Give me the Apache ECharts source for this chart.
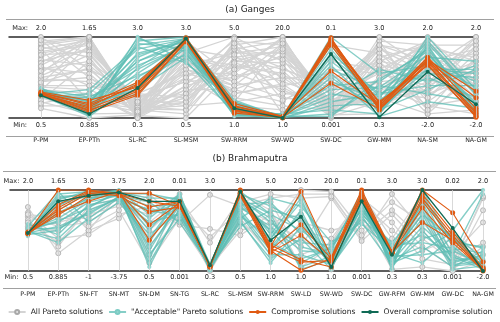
<!DOCTYPE html>
<html>
<head>
<meta charset="utf-8">
<script src="https://cdn.jsdelivr.net/npm/echarts@6/dist/echarts.min.js"></script>
<style>
  html, body { margin: 0; padding: 0; background: #fff; }
  #chart { width: 500px; height: 322px; }
</style>
</head>
<body>
<div id="chart"></div>
<script>
// axis names and the max / min printed above and below each axis
const axesA = ['P-PM', 'EP-PTh', 'SL-RC', 'SL-MSM', 'SW-RRM', 'SW-WD', 'SW-DC', 'GW-MM', 'NA-SM', 'NA-GM']
const maxA = ['2.0', '1.65', '3.0', '3.0', '5.0', '20.0', '0.1', '3.0', '2.0', '2.0']
const minA = ['0.5', '0.885', '0.3', '0.5', '1.0', '1.0', '0.001', '0.3', '-2.0', '-2.0']

const axesB = ['P-PM', 'EP-PTh', 'SN-FT', 'SN-MT', 'SN-DM', 'SN-TG', 'SL-RC', 'SL-MSM', 'SW-RRM', 'SW-LD', 'SW-WD', 'SW-DC', 'GW-RFM', 'GW-MM', 'GW-DC', 'NA-GM']
const maxB = ['2.0', '1.65', '3.0', '3.75', '2.0', '0.01', '3.0', '3.0', '5.0', '20.0', '20.0', '0.1', '3.0', '3.0', '0.02', '2.0']
const minB = ['0.5', '0.885', '-1', '-3.75', '0.5', '0.001', '0.3', '0.5', '1.0', '1.0', '1.0', '0.001', '0.3', '0.3', '0.001', '-2.0']

// solutions, as position between min (0) and max (1) on each axis
// (a) Ganges
const allA = [
  [0.95, 1.0, 0.05, 0.2, 0.9, 1.0, 0.05, 0.8, 0.3, 0.9],
  [0.9, 0.98, 0.1, 0.35, 0.85, 0.95, 0.1, 0.6, 0.9, 0.7],
  [0.85, 0.96, 0.02, 0.5, 0.95, 0.9, 0.02, 0.95, 0.1, 0.5],
  [0.8, 0.9, 0.15, 0.1, 0.7, 0.85, 0.15, 0.4, 0.6, 1.0],
  [0.75, 1.0, 0.0, 0.65, 0.8, 0.8, 0.0, 0.7, 0.95, 0.3],
  [0.7, 0.85, 0.2, 0.3, 0.6, 0.75, 0.2, 0.2, 0.45, 0.85],
  [0.65, 0.95, 0.05, 0.8, 1.0, 0.7, 0.3, 0.9, 0.2, 0.6],
  [0.6, 0.7, 0.25, 0.45, 0.5, 0.65, 0.08, 0.5, 0.75, 0.2],
  [0.55, 1.0, 0.1, 0.05, 0.75, 0.6, 0.4, 0.3, 0.35, 0.95],
  [0.5, 0.6, 0.3, 0.55, 0.4, 0.5, 0.12, 0.85, 0.55, 0.4],
  [0.45, 0.5, 0.08, 0.25, 0.65, 0.45, 0.25, 0.1, 0.85, 0.75],
  [0.4, 0.4, 0.18, 0.7, 0.3, 0.4, 0.5, 0.65, 0.05, 0.1],
  [0.35, 0.3, 0.02, 0.4, 0.55, 0.35, 0.06, 0.35, 0.65, 0.55],
  [0.3, 0.2, 0.12, 0.15, 0.2, 0.3, 0.35, 0.75, 0.25, 0.8],
  [0.25, 0.1, 0.22, 0.6, 0.45, 0.25, 0.18, 0.15, 0.8, 0.25],
  [0.2, 0.05, 0.06, 0.35, 0.35, 0.2, 0.6, 0.55, 0.4, 0.65],
  [0.15, 0.15, 0.28, 0.9, 0.25, 0.15, 0.1, 0.25, 1.0, 0.45],
  [0.12, 0.0, 0.04, 0.5, 0.15, 0.1, 0.22, 0.45, 0.5, 0.15],
  [0.98, 0.8, 0.14, 0.75, 0.65, 0.55, 0.04, 0.05, 0.7, 0.35],
  [0.88, 0.75, 0.0, 0.3, 0.9, 0.05, 0.7, 0.6, 0.15, 0.05],
  [0.72, 0.65, 0.16, 0.85, 0.1, 0.02, 0.9, 0.8, 0.45, 0.7],
  [0.62, 0.55, 0.03, 0.0, 0.6, 0.98, 0.14, 0.95, 0.9, 0.9],
  [0.48, 0.45, 0.2, 0.2, 0.8, 0.88, 0.03, 0.35, 0.3, 0.5],
  [0.38, 0.35, 0.09, 0.95, 0.5, 0.78, 0.28, 0.7, 0.6, 0.2],
  [0.28, 0.25, 0.26, 0.45, 0.7, 0.68, 0.45, 0.25, 0.05, 0.6],
  [0.82, 0.92, 0.07, 0.6, 0.35, 0.58, 0.09, 0.9, 0.8, 0.4],
  [0.58, 0.88, 0.11, 0.1, 0.95, 0.48, 0.55, 0.15, 0.4, 1.0],
  [0.42, 0.98, 0.01, 0.7, 0.45, 0.92, 0.02, 0.5, 0.95, 0.3],
  [1.0, 0.6, 0.12, 0.55, 0.55, 1.0, 0.08, 0.65, 0.55, 0.55],
  [0.92, 1.0, 0.04, 0.85, 0.75, 0.82, 0.16, 0.45, 0.85, 0.15],
  [0.78, 0.82, 0.24, 0.15, 0.85, 0.62, 0.32, 0.85, 0.65, 0.8],
  [0.68, 1.0, 0.06, 0.4, 0.98, 0.38, 0.06, 0.3, 0.25, 0.7],
  [0.52, 0.78, 0.14, 0.75, 0.6, 0.96, 0.2, 0.6, 0.5, 0.95],
  [0.44, 0.62, 0.02, 0.3, 0.88, 0.72, 0.04, 0.75, 0.9, 0.45],
  [0.34, 0.9, 0.18, 0.65, 0.4, 0.85, 0.12, 0.4, 0.15, 0.25],
  [0.22, 0.7, 0.1, 0.2, 0.68, 0.52, 0.38, 0.9, 0.7, 0.85],
  [0.18, 0.3, 0.0, 0.8, 0.3, 0.42, 0.02, 0.2, 0.35, 0.6],
  [0.96, 0.5, 0.2, 0.5, 0.78, 0.3, 0.26, 0.55, 0.95, 0.35],
  [0.86, 0.2, 0.08, 0.9, 0.2, 0.92, 0.1, 1.0, 0.6, 0.1],
  [0.64, 0.4, 0.3, 0.25, 0.92, 0.22, 0.48, 0.7, 0.1, 0.75]
]
const okA = [
  [0.30, 0.05, 0.95, 1.0, 0.05, 0.01, 0.95, 0.05, 0.9, 0.05],
  [0.32, 0.1, 0.9, 0.98, 0.1, 0.02, 0.85, 0.15, 0.8, 0.15],
  [0.28, 0.15, 0.8, 0.95, 0.15, 0.0, 0.7, 0.25, 0.95, 0.3],
  [0.34, 0.2, 0.7, 0.92, 0.08, 0.03, 0.6, 0.35, 0.7, 0.45],
  [0.27, 0.25, 0.6, 0.9, 0.2, 0.01, 0.5, 0.1, 0.6, 0.6],
  [0.36, 0.08, 0.5, 0.85, 0.12, 0.04, 0.4, 0.45, 0.85, 0.1],
  [0.31, 0.12, 0.4, 0.8, 0.03, 0.02, 0.3, 0.2, 0.5, 0.25],
  [0.29, 0.18, 0.35, 0.75, 0.18, 0.0, 0.2, 0.3, 0.4, 0.4],
  [0.33, 0.03, 1.0, 0.7, 0.06, 0.05, 0.1, 0.05, 0.75, 0.7],
  [0.26, 0.3, 0.85, 0.97, 0.22, 0.01, 0.05, 0.4, 0.3, 0.2],
  [0.35, 0.06, 0.75, 0.99, 0.1, 0.02, 1.0, 0.55, 0.65, 0.02],
  [0.30, 0.22, 0.65, 0.88, 0.14, 0.03, 0.9, 0.12, 1.0, 0.35],
  [0.37, 0.14, 0.55, 0.93, 0.04, 0.0, 0.8, 0.3, 0.55, 0.5],
  [0.28, 0.02, 0.45, 0.96, 0.16, 0.02, 0.65, 0.08, 0.88, 0.08],
  [0.32, 0.1, 0.3, 0.9, 0.09, 0.01, 0.45, 0.22, 0.6, 0.55],
  [0.34, 0.16, 0.98, 0.82, 0.12, 0.04, 0.35, 0.38, 0.78, 0.18],
  [0.29, 0.35, 0.88, 0.68, 0.2, 0.02, 0.25, 0.6, 0.45, 0.65],
  [0.31, 0.04, 0.62, 1.0, 0.07, 0.0, 0.15, 0.18, 0.92, 0.28],
  [0.33, 0.2, 0.78, 0.94, 0.02, 0.03, 0.55, 0.02, 0.2, 0.12],
  [0.27, 0.08, 0.92, 0.86, 0.14, 0.01, 0.75, 0.28, 0.7, 0.38],
  [0.35, 0.26, 0.52, 0.78, 0.18, 0.02, 0.02, 0.48, 0.82, 0.04],
  [0.30, 0.12, 0.7, 0.97, 0.05, 0.0, 0.98, 0.1, 0.35, 0.6]
]
const compA = [
  [0.31, 0.18, 0.44, 0.97, 0.15, 0.01, 0.99, 0.12, 0.72, 0.33],
  [0.29, 0.14, 0.42, 0.96, 0.10, 0.01, 0.97, 0.18, 0.70, 0.25],
  [0.32, 0.22, 0.38, 0.99, 0.18, 0.02, 0.96, 0.15, 0.75, 0.12],
  [0.30, 0.10, 0.30, 0.95, 0.06, 0.01, 0.94, 0.10, 0.68, 0.06],
  [0.28, 0.07, 0.28, 0.94, 0.08, 0.0, 0.93, 0.20, 0.65, 0.01],
  [0.30, 0.12, 0.35, 0.98, 0.12, 0.01, 0.90, 0.13, 0.73, 0.03],
  [0.31, 0.16, 0.40, 0.96, 0.14, 0.02, 0.58, 0.16, 0.70, 0.08],
  [0.29, 0.09, 0.33, 0.97, 0.09, 0.01, 0.43, 0.11, 0.66, 0.02]
]
const bestA = [0.28, 0.05, 0.37, 0.98, 0.12, 0.0, 0.79, 0.01, 0.57, 0.17]

// (b) Brahmaputra
const allB = [
  [0.79, 0.22, 0.5, 0.65, 0.95, 0.6, 0.94, 0.8, 0.9, 0.95, 0.95, 0.4, 0.95, 0.5, 0.1, 0.9],
  [0.72, 0.4, 0.45, 0.7, 0.8, 0.57, 0.52, 0.44, 0.7, 0.3, 0.9, 0.37, 0.7, 0.3, 0.05, 0.75],
  [0.67, 0.55, 0.6, 0.85, 0.6, 0.9, 0.35, 0.9, 0.5, 1.0, 0.98, 0.5, 0.85, 0.6, 0.2, 0.6],
  [0.63, 0.3, 0.8, 0.9, 0.2, 0.7, 0.0, 0.6, 0.3, 0.5, 0.4, 0.9, 0.6, 0.15, 0.08, 0.92],
  [0.59, 0.9, 0.5, 0.95, 0.4, 0.8, 0.42, 0.75, 0.85, 0.2, 0.35, 0.95, 0.4, 0.95, 0.3, 0.02],
  [0.55, 0.6, 0.7, 0.8, 0.7, 0.95, 0.05, 0.5, 0.6, 0.7, 0.02, 0.8, 0.1, 0.8, 0.02, 0.3],
  [0.47, 0.75, 0.55, 0.75, 0.1, 0.65, 0.07, 0.85, 0.95, 0.9, 0.92, 0.44, 0.75, 0.4, 0.12, 0.35],
  [0.52, 0.5, 0.9, 0.98, 0.9, 0.6, 0.03, 0.95, 0.75, 0.05, 0.3, 0.7, 0.02, 0.05, 0.0, 0.12],
  [0.7, 0.65, 0.65, 0.92, 0.5, 0.85, 0.02, 0.65, 0.2, 0.6, 0.5, 0.6, 0.3, 0.7, 0.25, 0.05],
  [0.6, 0.35, 0.75, 0.88, 0.3, 0.75, 0.06, 0.8, 0.6, 0.4, 0.15, 0.85, 0.5, 0.25, 0.4, 0.2]
]
const okB = [
  [0.48, 0.95, 0.98, 0.97, 0.9, 0.9, 0.05, 0.95, 0.8, 0.6, 0.1, 0.95, 0.1, 0.9, 0.2, 0.05],
  [0.47, 0.9, 0.95, 0.99, 0.7, 0.85, 0.02, 0.9, 0.6, 0.3, 0.2, 0.85, 0.2, 0.7, 0.4, 0.1],
  [0.50, 0.8, 1.0, 0.95, 0.5, 0.95, 0.08, 0.85, 0.4, 0.9, 0.05, 0.9, 0.05, 0.5, 0.1, 0.2],
  [0.46, 0.7, 0.9, 0.98, 0.3, 0.8, 0.04, 0.8, 0.5, 0.1, 0.3, 0.75, 0.3, 0.95, 0.3, 0.02],
  [0.52, 0.6, 0.85, 0.93, 0.1, 0.75, 0.06, 0.75, 0.3, 0.7, 0.15, 0.8, 0.15, 0.3, 0.05, 0.25],
  [0.45, 0.5, 0.8, 0.96, 0.95, 0.88, 0.03, 0.98, 0.7, 0.5, 0.25, 0.98, 0.25, 0.6, 0.45, 0.05],
  [0.49, 0.4, 0.75, 0.9, 0.6, 0.7, 0.07, 0.7, 0.2, 0.2, 0.08, 0.7, 0.35, 0.8, 0.15, 0.15],
  [0.55, 0.98, 0.6, 0.85, 0.4, 0.92, 0.01, 0.65, 0.9, 0.8, 0.35, 0.6, 0.08, 0.4, 0.5, 1.0],
  [0.44, 0.85, 0.92, 0.99, 0.2, 0.65, 0.05, 0.6, 0.15, 0.4, 0.02, 0.88, 0.18, 0.2, 0.25, 0.08],
  [0.48, 0.75, 0.97, 0.94, 0.8, 0.82, 0.09, 0.88, 0.65, 0.05, 0.18, 0.92, 0.02, 1.0, 0.35, 0.3],
  [0.51, 0.65, 0.88, 0.97, 0.05, 0.78, 0.04, 0.92, 0.45, 0.95, 0.12, 0.65, 0.28, 0.75, 0.08, 0.12],
  [0.47, 0.55, 0.7, 0.92, 0.65, 0.95, 0.02, 0.78, 0.55, 0.25, 0.22, 0.82, 0.12, 0.55, 0.2, 0.95],
  [0.58, 0.45, 0.82, 0.88, 0.45, 0.72, 0.06, 0.55, 0.75, 0.65, 0.05, 0.72, 0.22, 0.1, 0.42, 0.04],
  [0.46, 0.92, 0.94, 1.0, 0.25, 0.86, 0.03, 0.95, 0.35, 0.15, 0.28, 0.95, 0.06, 0.85, 0.12, 0.18],
  [0.49, 0.35, 0.65, 0.9, 0.75, 0.68, 0.08, 0.82, 0.85, 0.45, 0.1, 0.78, 0.32, 0.35, 0.28, 0.22],
  [0.43, 0.88, 0.99, 0.96, 0.15, 0.9, 0.05, 0.72, 0.25, 0.75, 0.04, 0.68, 0.14, 0.65, 0.02, 0.06],
  [0.50, 0.62, 0.78, 0.99, 0.55, 0.8, 0.01, 0.86, 0.5, 0.35, 0.32, 0.9, 0.04, 0.9, 0.38, 0.28],
  [0.48, 0.72, 0.9, 0.93, 0.85, 0.6, 0.07, 0.62, 0.1, 0.55, 0.06, 0.58, 0.26, 0.45, 0.18, 0.02],
  [0.45, 0.82, 0.96, 0.95, 0.35, 0.93, 0.04, 0.9, 0.7, 0.02, 0.14, 0.86, 0.1, 0.25, 0.48, 0.14],
  [0.53, 0.52, 0.72, 0.91, 0.75, 0.77, 0.02, 0.68, 0.4, 0.85, 0.2, 0.76, 0.2, 0.7, 0.06, 0.1]
]
const compB = [
  [0.47, 1.0, 1.0, 0.96, 0.96, 0.81, 0.06, 1.0, 0.3, 0.98, 0.17, 1.0, 0.24, 1.0, 0.72, 0.11],
  [0.46, 0.78, 0.98, 0.95, 0.79, 0.86, 0.05, 0.97, 0.26, 0.57, 0.15, 0.96, 0.23, 0.95, 0.48, 0.04],
  [0.48, 0.75, 0.96, 0.93, 0.73, 0.79, 0.07, 0.93, 0.23, 0.44, 0.12, 0.92, 0.22, 0.9, 0.44, 0.02],
  [0.47, 0.69, 0.93, 0.97, 0.57, 0.84, 0.05, 0.99, 0.32, 0.14, 0.05, 0.88, 0.24, 0.86, 0.4, 0.0],
  [0.46, 0.72, 0.86, 0.98, 0.38, 0.82, 0.06, 0.95, 0.28, 0.11, 0.13, 0.94, 0.22, 0.78, 0.35, 0.01],
  [0.47, 0.82, 0.99, 0.95, 0.86, 0.8, 0.07, 0.96, 0.25, 0.01, 0.15, 0.9, 0.23, 0.6, 0.38, 0.03]
]
const bestB = [0.47, 0.86, 0.93, 0.97, 0.86, 0.86, 0.07, 0.98, 0.38, 0.67, 0.05, 0.86, 0.2, 1.0, 0.53, 0.0]

const names = ['All Pareto solutions', '"Acceptable" Pareto solutions', 'Compromise solutions', 'Overall compromise solution']
const font = 'DejaVu Sans'

const chart = echarts.init(document.getElementById('chart'), null, {renderer: 'canvas'})

// three x axes per panel: max labels on top, min labels below, axis names under the separator
function panelAxes(gi, n, xmin, tagX, maxs, mins, labels, m) {
  const ticks = [...Array(n).keys()]
  const base = {
    type: 'value', gridIndex: gi, min: xmin, max: n - 1,
    splitLine: {show: false}, axisTick: {show: false}
  }
  const frame = {onZero: false, lineStyle: {color: '#2a2a2a', width: 1.5}}
  return [
    {...base, position: 'top', axisLine: frame,
      axisLabel: {customValues: [tagX, ...ticks], formatter: v => v < 0 ? 'Max:' : maxs[Math.round(v)],
        margin: m[0], fontSize: 6.6, color: '#222', fontFamily: font}},
    {...base, position: 'bottom', axisLine: frame,
      axisLabel: {customValues: [tagX, ...ticks], formatter: v => v < 0 ? 'Min:' : mins[Math.round(v)],
        margin: m[1], fontSize: 6.6, color: '#222', fontFamily: font}},
    {...base, position: 'bottom', offset: m[3], axisLine: {show: false},
      axisLabel: {customValues: ticks, formatter: v => labels[Math.round(v)],
        margin: m[2], fontSize: 6.3, color: '#222', fontFamily: font}}
  ]
}

const styles = {
  all: {
    lineStyle: {color: '#d4d4d4', width: 1.3}, symbol: 'circle', symbolSize: 5,
    itemStyle: {color: '#e6e6e6', borderColor: '#a8a8a8', borderWidth: 0.8}
  },
  ok: {
    lineStyle: {color: '#5ebdb4', width: 1.4, opacity: 0.75}, symbol: 'circle', symbolSize: 3.5,
    itemStyle: {color: '#94d5cf', borderColor: '#7ccbc4', borderWidth: 0.5}
  },
  comp: {
    lineStyle: {color: '#e05a12', width: 1.1}, symbol: 'circle', symbolSize: 5,
    itemStyle: {color: '#e05a12'}
  },
  best: {
    lineStyle: {color: '#0f6a55', width: 1.3}, symbol: 'circle', symbolSize: 4,
    itemStyle: {color: '#0f6a55'}
  }
}

function group(rows, name, style, gi, z) {
  return rows.map(r => ({
    type: 'line', name, xAxisIndex: gi * 3, yAxisIndex: gi, z,
    data: r.map((v, i) => [i, v]),
    silent: true, emphasis: {disabled: true}, animation: false,
    ...style
  }))
}

function axisLines(axes) {
  return {
    silent: true, symbol: 'none', label: {show: false},
    lineStyle: {color: '#cfcfcf', width: 0.8, type: 'solid'},
    data: axes.map((_, i) => ({xAxis: i}))
  }
}

const series = []
;[[allA, okA, compA, [bestA], axesA], [allB, okB, compB, [bestB], axesB]].forEach((p, gi) => {
  const g = group(p[0], names[0], styles.all, gi, 2)
  g[0].markLine = axisLines(p[4])
  series.push(...g)
  series.push(...group(p[1], names[1], styles.ok, gi, 3))
  series.push(...group(p[2], names[2], styles.comp, gi, 4))
  series.push(...group(p[3], names[3], styles.best, gi, 5))
})

const sepStyle = {stroke: '#a0a0a0', lineWidth: 1}

chart.setOption({
  backgroundColor: '#fff',
  animation: false,
  title: [
    {text: '(a) Ganges', left: 'center', top: 0, textStyle: {fontSize: 9, fontWeight: 'normal', color: '#222', fontFamily: font}},
    {text: '(b) Brahmaputra', left: 'center', top: 149, textStyle: {fontSize: 9, fontWeight: 'normal', color: '#222', fontFamily: font}}
  ],
  legend: {
    data: names, left: 'center', top: 308, width: 500, padding: 0,
    itemWidth: 17, itemHeight: 5, itemGap: 5,
    textStyle: {fontSize: 7.6, color: '#222', fontFamily: font}
  },
  grid: [
    {left: 9, right: 24, top: 37, height: 81},
    {left: 10, right: 17, top: 190, height: 81}
  ],
  xAxis: [
    ...panelAxes(0, axesA.length, -0.66, -0.43, maxA, minA, axesA, [5, 4, 1, 18]),
    ...panelAxes(1, axesB.length, -0.59, -0.54, maxB, minB, axesB, [5, 3, 3, 17])
  ],
  yAxis: [
    {type: 'value', gridIndex: 0, min: 0, max: 1, show: false},
    {type: 'value', gridIndex: 1, min: 0, max: 1, show: false}
  ],
  graphic: [
    {type: 'line', shape: {x1: 6, y1: 19.5, x2: 494, y2: 19.5}, style: sepStyle, silent: true},
    {type: 'line', shape: {x1: 6, y1: 136.5, x2: 494, y2: 136.5}, style: sepStyle, silent: true},
    {type: 'line', shape: {x1: 3, y1: 171.5, x2: 496, y2: 171.5}, style: sepStyle, silent: true},
    {type: 'line', shape: {x1: 3, y1: 288.5, x2: 496, y2: 288.5}, style: sepStyle, silent: true}
  ],
  series
})
</script>
</body>
</html>
